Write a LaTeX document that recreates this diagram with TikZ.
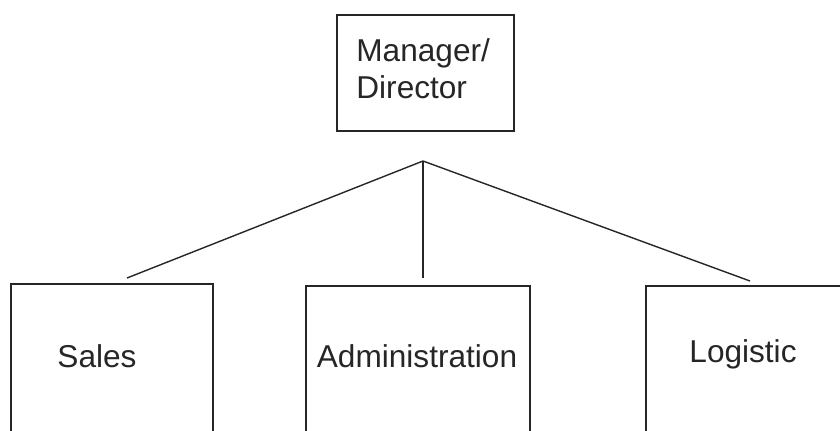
\documentclass[tikz,border=0pt]{standalone}
\usepackage{fontspec}
\setmainfont{Liberation Sans}
\tikzset{
  box/.style={draw=black!85, line width=0.9pt, rectangle, inner sep=0pt},
  txt/.style={inner sep=0pt, text=black!85, font=\fontsize{15.8}{18.5}\selectfont},
  link/.style={draw=black!85, line width=0.7pt}
}
\begin{document}
\begin{tikzpicture}[x=0.5pt, y=-0.5pt]
\useasboundingbox (0,0) rectangle (840,430);
\clip (0,0) rectangle (840,430);
% boxes
\node[box, minimum width=88.5pt, minimum height=58pt] (mgr) at (425.5,73){};
\node[box, minimum width=101pt, minimum height=100pt] (sales) at (112,384){};
\node[box, minimum width=112pt, minimum height=100pt] (admin) at (418,386){};
\node[box, minimum width=102pt, minimum height=100pt] (logis) at (748,386){};
% labels
\node[txt, anchor=north west, align=left] (mgrtxt) at (356,38){Manager/\\Director};
\node[txt, anchor=base] (salestxt) at (97,367){Sales};
\node[txt, anchor=base] (admintxt) at (417,367){Administration};
\node[txt, anchor=base] (logistxt) at (743,362){Logistic};
% connectors
\coordinate (hub) at (423,161);
\coordinate (salesend) at (127,278);
\coordinate (adminend) at (423,278);
\coordinate (logisend) at (750,281);
\draw[link](hub) -- (salesend);
\draw[link](hub) -- (adminend);
\draw[link](hub) -- (logisend);
\end{tikzpicture}
\end{document}
